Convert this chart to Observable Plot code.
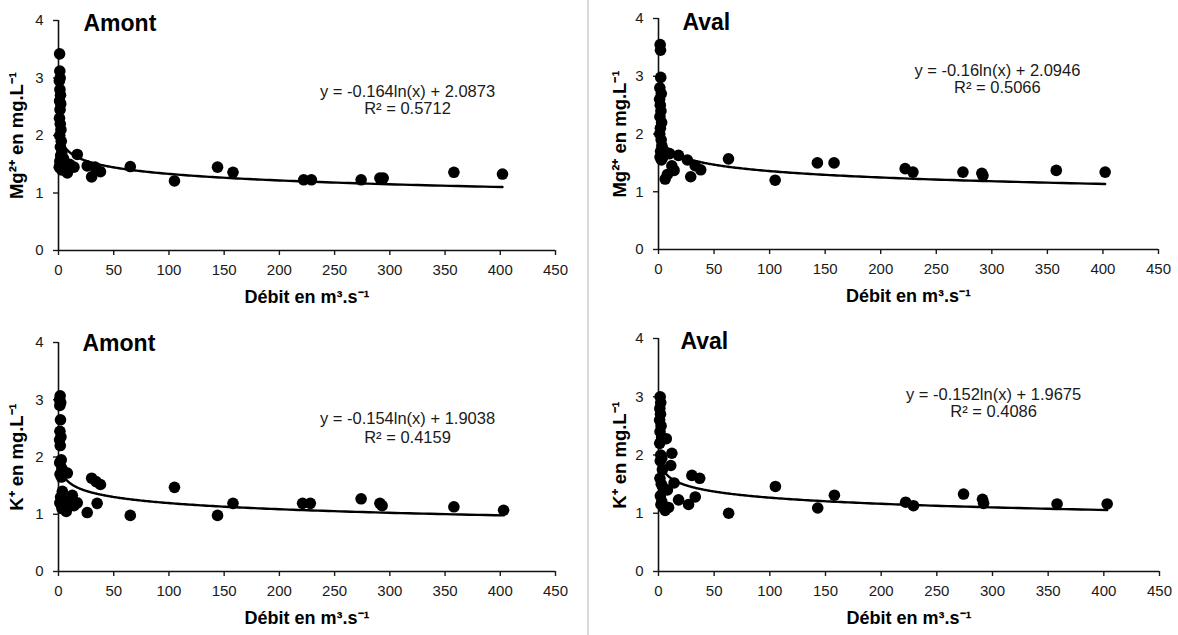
<!DOCTYPE html>
<html>
<head>
<meta charset="utf-8">
<script src="https://cdn.jsdelivr.net/npm/d3@7"></script>
<script src="https://cdn.jsdelivr.net/npm/@observablehq/plot@0.6"></script>
<style>
html, body { margin: 0; padding: 0; background: #fff; }
#wrap { position: relative; width: 1178px; height: 635px; overflow: hidden; background: #fff; }
#wrap svg { position: absolute; overflow: visible; }
#sep { position: absolute; left: 587px; top: 0; width: 2px; height: 635px; background: #d9d9d9; }
</style>
</head>
<body>
<div id="wrap"><div id="sep"></div></div>
<script>
// ---- tick labels / texts ----
const xTicks = [0, 50, 100, 150, 200, 250, 300, 350, 400, 450];
const yTicks = [0, 1, 2, 3, 4];
const stations = ["Amont", "Aval", "Amont", "Aval"];
const yTitles = ["Mg²⁺ en mg.L⁻¹", "Mg²⁺ en mg.L⁻¹", "K⁺ en mg.L⁻¹", "K⁺ en mg.L⁻¹"];
const xTitle = "Débit en m³.s⁻¹";

// ---- series: Mg2+ Amont ----
const mgAmontDebit = [1.0, 1.2, 1.5, 0.8, 1.3, 1.8, 1.0, 2.0, 1.4, 0.9, 1.6, 2.2, 1.1, 2.5, 1.7, 3.0, 2.0, 1.2, 3.5, 0.7, 2.8, 4.5,
  5, 8, 10, 14, 17, 26, 30, 33, 38,
  65, 105, 144, 158, 222, 229, 274, 291, 294, 358, 402];
const mgAmontConc = [3.42, 3.12, 3.0, 2.95, 2.8, 2.7, 2.6, 2.55, 2.45, 2.3, 2.2, 2.1, 2.0, 1.9, 1.8, 1.7, 1.65, 1.55, 1.5, 1.45, 1.4, 1.6,
  1.5, 1.35, 1.5, 1.45, 1.67, 1.47, 1.28, 1.45, 1.37,
  1.46, 1.21, 1.45, 1.36, 1.23, 1.23, 1.23, 1.26, 1.26, 1.36, 1.33];

// ---- series: Mg2+ Aval ----
const mgAvalDebit = [1.5, 1.8, 2.0, 1.2, 2.5, 1.0, 1.6, 2.2, 1.3, 2.8, 1.7, 1.1, 2.4, 3.0, 1.9, 3.5, 1.4, 2.6, 4.0,
  6, 8, 10, 12, 14, 18, 26, 29, 33, 38,
  63, 105, 143, 158, 222, 229, 274, 291, 292, 358, 402];
const mgAvalConc = [3.55, 3.45, 2.98, 2.8, 2.7, 2.6, 2.5, 2.4, 2.3, 2.2, 2.1, 2.0, 1.9, 1.8, 1.7, 1.65, 1.6, 1.55, 1.6,
  1.22, 1.3, 1.66, 1.45, 1.37, 1.63, 1.55, 1.26, 1.45, 1.38,
  1.57, 1.2, 1.5, 1.5, 1.4, 1.34, 1.34, 1.32, 1.28, 1.37, 1.34];

// ---- series: K+ Amont ----
const kAmontDebit = [1.5, 1.0, 2.0, 1.2, 1.8, 1.3, 2.2, 1.0, 1.6, 2.5, 1.1, 3.0, 1.4, 2.6, 3.5, 1.9, 4.0, 1.2, 2.8, 3.2,
  5, 7, 8, 10, 12.5, 14, 17, 26, 30, 34, 35, 38,
  65, 105, 144, 158, 221, 228, 274, 291, 293, 358, 403];
const kAmontConc = [3.07, 3.0, 2.95, 2.9, 2.65, 2.45, 2.35, 2.3, 2.2, 1.95, 1.9, 1.8, 1.7, 1.65, 1.4, 1.3, 1.25, 1.2, 1.15, 1.1,
  1.1, 1.05, 1.72, 1.2, 1.33, 1.15, 1.2, 1.03, 1.63, 1.57, 1.19, 1.52,
  0.98, 1.47, 0.98, 1.19, 1.19, 1.19, 1.27, 1.19, 1.15, 1.13, 1.07];

// ---- series: K+ Aval ----
const kAvalDebit = [1.5, 2.0, 1.2, 1.8, 1.0, 2.3, 1.4, 2.8, 1.1, 2.0, 3.0, 1.6, 3.5, 1.3, 2.5, 4.0, 1.7, 3.0, 2.2, 4.5,
  6, 7, 8, 9, 11, 12, 14, 18, 27, 30, 33, 37,
  63, 105, 143, 158, 222, 229, 274, 291, 292, 358, 403];
const kAvalConc = [3.0, 2.9, 2.8, 2.7, 2.6, 2.5, 2.4, 2.3, 2.2, 2.0, 1.95, 1.9, 1.75, 1.6, 1.5, 1.45, 1.3, 1.2, 1.15, 1.1,
  1.05, 2.28, 1.4, 1.1, 1.82, 2.03, 1.52, 1.23, 1.15, 1.65, 1.28, 1.6,
  1.0, 1.46, 1.09, 1.31, 1.19, 1.13, 1.33, 1.24, 1.17, 1.16, 1.16];

// ---- logarithmic trend lines (from the printed equations) ----
const slopes = [-0.164, -0.16, -0.154, -0.152];
const intercepts = [2.0873, 2.0946, 1.9038, 1.9675];
const eqLabels = ["y = -0.164ln(x) + 2.0873", "y = -0.16ln(x) + 2.0946", "y = -0.154ln(x) + 1.9038", "y = -0.152ln(x) + 1.9675"];
const r2Labels = ["R² = 0.5712", "R² = 0.5066", "R² = 0.4159", "R² = 0.4086"];

const seriesX = [mgAmontDebit, mgAvalDebit, kAmontDebit, kAvalDebit];
const seriesY = [mgAmontConc, mgAvalConc, kAmontConc, kAvalConc];

// ---- layout (positions / styles) ----
const layouts = [
  {left: 0,   top: 0,   width: 588, height: 317, mt: 20, mb: 67, ml: 58, mr: 33, ylDx: -41, tDx: 25, tDy: 3, eqX: 316, eqY1: 2.77, eqY2: 2.47},
  {left: 588, top: 0,   width: 590, height: 317, mt: 18, mb: 68, ml: 70, mr: 20, ylDx: -38, tDx: 24, tDy: 4, eqX: 305, eqY1: 3.10, eqY2: 2.80},
  {left: 0,   top: 317, width: 588, height: 318, mt: 25, mb: 64, ml: 58, mr: 33, ylDx: -41, tDx: 24, tDy: 1, eqX: 316, eqY1: 2.66, eqY2: 2.34},
  {left: 588, top: 317, width: 590, height: 318, mt: 21, mb: 64, ml: 70, mr: 19, ylDx: -38, tDx: 22, tDy: 3, eqX: 301, eqY1: 3.04, eqY2: 2.75}
];

const wrap = document.getElementById("wrap");

layouts.forEach((L, i) => {
  const xs = seriesX[i], ys = seriesY[i];
  const pts = xs.map((x, j) => ({x, y: ys[j]}));
  const x0 = d3.min(xs), x1 = d3.max(xs);
  const fit = d3.range(0, 301).map(k => {
    const x = x0 * Math.pow(x1 / x0, k / 300);
    return {x, y: slopes[i] * Math.log(x) + intercepts[i]};
  });

  const svg = Plot.plot({
    width: L.width,
    height: L.height,
    marginTop: L.mt,
    marginBottom: L.mb,
    marginLeft: L.ml,
    marginRight: L.mr,
    x: {domain: [0, 450]},
    y: {domain: [0, 4]},
    style: {fontFamily: "'Liberation Sans', Arial, sans-serif", fontSize: "15px", color: "#1a1a1a", background: "transparent"},
    marks: [
      Plot.axisX(xTicks, {tickSize: 5, tickPadding: 9, label: null, fontSize: 15, strokeWidth: 1.4, tickFormat: d3.format("d")}),
      Plot.axisY(yTicks, {tickSize: 5, tickPadding: 10, label: null, fontSize: 15, strokeWidth: 1.4, tickFormat: d3.format("d")}),
      Plot.ruleX([0], {stroke: "#111", strokeWidth: 1.6}),
      Plot.ruleY([0], {stroke: "#111", strokeWidth: 1.6}),
      Plot.dot(pts, {x: "x", y: "y", r: 5.8, fill: "#000", stroke: null}),
      Plot.line(fit, {x: "x", y: "y", stroke: "#000", strokeWidth: 2.4}),
      Plot.text([stations[i]], {frameAnchor: "top-left", dx: L.tDx, dy: L.tDy, textAnchor: "start", lineAnchor: "middle", fontSize: 23, fontWeight: "bold", fill: "#000"}),
      Plot.text([yTitles[i]], {frameAnchor: "left", dx: L.ylDx, rotate: -90, textAnchor: "middle", lineAnchor: "middle", fontSize: 18.5, fontWeight: "bold", fill: "#000"}),
      Plot.text([xTitle], {frameAnchor: "bottom", dy: 47, textAnchor: "middle", lineAnchor: "middle", fontSize: 18, fontWeight: "bold", fill: "#000"}),
      Plot.text([eqLabels[i]], {x: () => L.eqX, y: () => L.eqY1, fontSize: 16.5, fill: "#1a1a1a"}),
      Plot.text([r2Labels[i]], {x: () => L.eqX, y: () => L.eqY2, fontSize: 16.5, fill: "#1a1a1a"})
    ]
  });
  svg.style.left = L.left + "px";
  svg.style.top = L.top + "px";
  wrap.appendChild(svg);
});
</script>
</body>
</html>
